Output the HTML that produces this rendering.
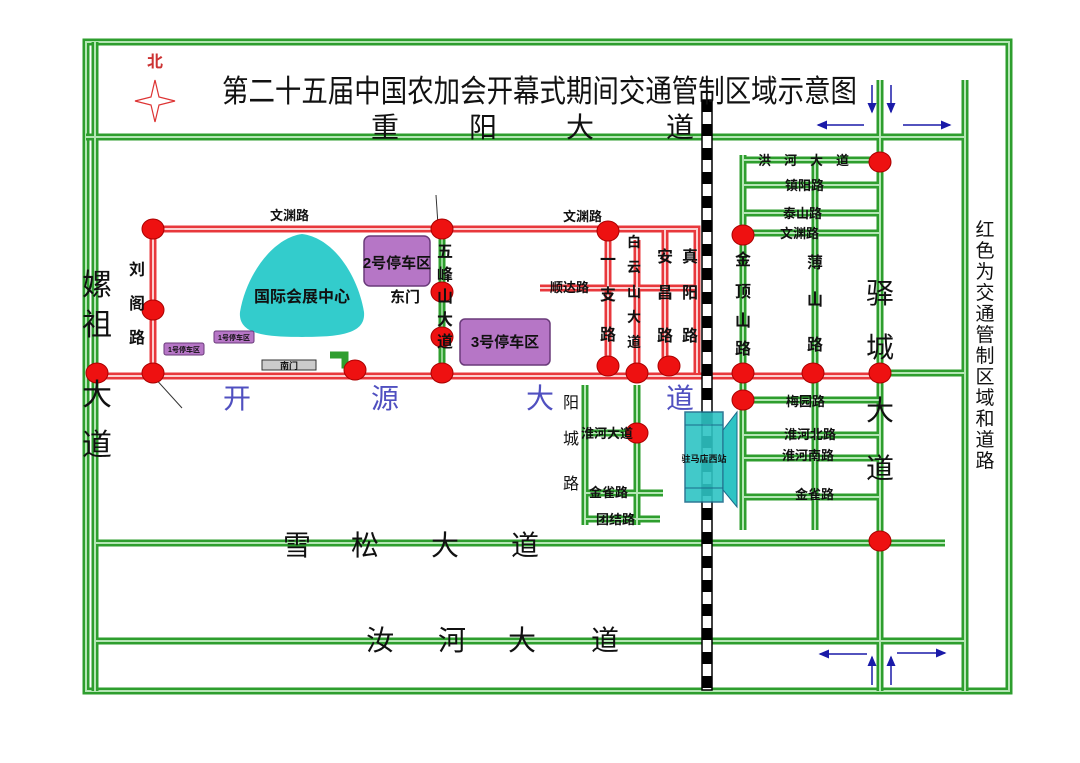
<!DOCTYPE html>
<html><head><meta charset="utf-8"><style>
html,body{margin:0;padding:0;background:#fff;}
svg{display:block;}
text{font-family:"Liberation Sans","Noto Sans CJK SC",sans-serif;}
.b{font-weight:bold;font-size:13px;fill:#111;}
.v{font-size:16px;fill:#111;}
.big{font-family:"Liberation Serif","Noto Serif CJK SC",serif;font-size:28px;fill:#111;}
</style></head><body>
<svg width="1080" height="763" viewBox="0 0 1080 763" xmlns="http://www.w3.org/2000/svg">
<defs>
<marker id="ah" markerWidth="8" markerHeight="8" refX="6" refY="4" orient="auto"><path d="M0,1 L7,4 L0,7 Z" fill="#1a1aa8"/></marker>
</defs>
<rect width="1080" height="763" fill="#fff"/>
<!-- outer frame -->
<g fill="none">
<rect x="86" y="42" width="923" height="649" stroke="#2e9e2e" stroke-width="7"/>
<rect x="86" y="42" width="923" height="649" stroke="#b4e6b4" stroke-width="2"/>
</g>
<!-- green roads -->
<g stroke="#2e9e2e" stroke-width="7" fill="none" id="gr">
<path d="M95,42 V691"/>
<path d="M86,137 H965"/>
<path d="M965,80 V691"/>
<path d="M880,80 V691"/>
<path d="M880,373 H965"/>
<path d="M95,543 H945"/>
<path d="M95,641 H965"/>
<path d="M743,155 V530 M815,160 V530 M743,160 H880 M743,185 H880 M743,213 H880 M743,233 H880 M743,400 H880 M743,435 H880 M743,458 H880 M743,497 H880"/>
<path d="M585,385 V525 M637,385 V525 M585,433 H637 M585,493 H663 M585,519 H660"/>
<path d="M442,229 V373 M330,355 H345 V365 H355"/>
</g>
<g stroke="#b4e6b4" stroke-width="2" fill="none">
<path d="M95,42 V691"/>
<path d="M86,137 H965"/>
<path d="M965,80 V691"/>
<path d="M880,80 V691"/>
<path d="M880,373 H965"/>
<path d="M95,543 H945"/>
<path d="M95,641 H965"/>
<path d="M743,155 V530 M815,160 V530 M743,160 H880 M743,185 H880 M743,213 H880 M743,233 H880 M743,400 H880 M743,435 H880 M743,458 H880 M743,497 H880"/>
<path d="M585,385 V525 M637,385 V525 M585,433 H637 M585,493 H663 M585,519 H660"/>
<path d="M442,229 V373"/>
</g>
<!-- red roads -->
<g stroke="#e8383c" stroke-width="7" fill="none">
<path d="M95,376 H880"/>
<path d="M153,229 H697 V373"/>
<path d="M153,229 V376"/>
<path d="M608,229 V366 M637,240 V373 M665,229 V366 M540,288 H697"/>
</g>
<g stroke="#fbd0d0" stroke-width="2" fill="none">
<path d="M95,376 H880"/>
<path d="M153,229 H697 V373"/>
<path d="M153,229 V376"/>
<path d="M608,229 V366 M637,240 V373 M665,229 V366 M540,288 H697"/>
</g>
<g stroke="#2e9e2e" stroke-width="5" fill="none"><path d="M442,240 V370"/></g>
<g stroke="#b4e6b4" stroke-width="1.5" fill="none"><path d="M442,240 V370"/></g>
<!-- railway -->
<rect x="702" y="100" width="10" height="590" fill="#fff" stroke="#000" stroke-width="1.5"/>
<line x1="707" y1="100" x2="707" y2="690" stroke="#000" stroke-width="9" stroke-dasharray="12,12"/>
<!-- station -->
<rect x="685" y="412" width="38" height="90" fill="#2ec4c4" stroke="#1a6a8a" stroke-width="1.5" opacity="0.9"/>
<path d="M685,425 H723 M685,488 H723" stroke="#1a6a8a" stroke-width="1"/>
<polygon points="723,430 737,412 737,507 723,490" fill="#2ec4c4" stroke="#1a6a8a" stroke-width="1"/>
<text x="704" y="462" font-size="9" font-weight="bold" text-anchor="middle" fill="#111">驻马店西站</text>
<!-- dome -->
<path d="M240,312 C246,276 272,238 302,234 C334,238 358,276 364,312 C366,334 340,337 302,337 C264,337 238,334 240,312 Z" fill="#33cccc"/>
<!-- parking -->
<rect x="364" y="236" width="66" height="50" rx="6" fill="#b676c6" stroke="#6a3a7a" stroke-width="1.5"/>
<rect x="460" y="319" width="90" height="46" rx="5" fill="#b676c6" stroke="#6a3a7a" stroke-width="1.5"/>
<rect x="164" y="343" width="40" height="12" rx="2" fill="#b676c6" stroke="#6a3a7a"/>
<rect x="214" y="331" width="40" height="12" rx="2" fill="#b676c6" stroke="#6a3a7a"/>
<rect x="262" y="360" width="54" height="10" fill="#ccc" stroke="#333"/>
<line x1="153" y1="376" x2="182" y2="408" stroke="#333" stroke-width="1"/>
<line x1="436" y1="195" x2="438" y2="225" stroke="#333" stroke-width="1"/>
<!-- red dots -->
<g fill="#ee1111" stroke="#a00" stroke-width="1">
<ellipse cx="97" cy="373" rx="11" ry="10"/><ellipse cx="153" cy="373" rx="11" ry="10"/>
<ellipse cx="153" cy="310" rx="11" ry="10"/><ellipse cx="153" cy="229" rx="11" ry="10"/>
<ellipse cx="442" cy="229" rx="11" ry="10"/><ellipse cx="442" cy="292" rx="11" ry="10"/>
<ellipse cx="442" cy="337" rx="11" ry="10"/><ellipse cx="442" cy="373" rx="11" ry="10"/>
<ellipse cx="355" cy="370" rx="11" ry="10"/><ellipse cx="608" cy="231" rx="11" ry="10"/>
<ellipse cx="608" cy="366" rx="11" ry="10"/><ellipse cx="637" cy="373" rx="11" ry="10"/>
<ellipse cx="669" cy="366" rx="11" ry="10"/><ellipse cx="743" cy="373" rx="11" ry="10"/>
<ellipse cx="743" cy="400" rx="11" ry="10"/><ellipse cx="743" cy="235" rx="11" ry="10"/>
<ellipse cx="813" cy="373" rx="11" ry="10"/><ellipse cx="880" cy="373" rx="11" ry="10"/>
<ellipse cx="880" cy="162" rx="11" ry="10"/><ellipse cx="880" cy="541" rx="11" ry="10"/>
<ellipse cx="637" cy="433" rx="11" ry="10"/>
</g>
<!-- arrows -->
<g stroke="#1a1aa8" stroke-width="1.5" marker-end="url(#ah)">
<line x1="872" y1="85" x2="872" y2="112"/><line x1="891" y1="85" x2="891" y2="112"/>
<line x1="864" y1="125" x2="818" y2="125"/><line x1="903" y1="125" x2="950" y2="125"/>
<line x1="872" y1="685" x2="872" y2="657"/><line x1="891" y1="685" x2="891" y2="657"/>
<line x1="867" y1="654" x2="820" y2="654"/><line x1="897" y1="653" x2="945" y2="653"/>
</g>
<!-- compass -->
<path d="M155,80 L159,97 L175,101 L159,105 L155,122 L151,105 L135,101 L151,97 Z" fill="#fff" stroke="#d33" stroke-width="1.2"/>
<text x="155" y="67" font-size="16" font-weight="bold" fill="#c33" text-anchor="middle">北</text>
<!-- title -->
<text x="222" y="102" font-family="'Liberation Serif','Noto Serif CJK SC',serif" font-size="31" fill="#111" textLength="635" lengthAdjust="spacingAndGlyphs">第二十五届中国农加会开幕式期间交通管制区域示意图</text>
<!-- big road names -->
<g class="big" text-anchor="middle">
<text x="385" y="137">重</text><text x="483" y="137">阳</text><text x="580" y="137">大</text><text x="680" y="137">道</text>
<text x="297" y="555">雪</text><text x="365" y="555">松</text><text x="445" y="555">大</text><text x="525" y="555">道</text>
<text x="380" y="650">汝</text><text x="452" y="650">河</text><text x="522" y="650">大</text><text x="605" y="650">道</text>
<text x="97" y="295" font-size="30">嫘</text><text x="97" y="335" font-size="30">祖</text><text x="97" y="405" font-size="30">大</text><text x="97" y="455" font-size="30">道</text>
<text x="880" y="303">驿</text><text x="880" y="357">城</text><text x="880" y="420">大</text><text x="880" y="478">道</text>
</g>
<g font-size="28" fill="#5050c0" text-anchor="middle" font-family="'Liberation Serif','Noto Serif CJK SC',serif">
<text x="237" y="408">开</text><text x="385" y="408">源</text><text x="540" y="408">大</text><text x="680" y="408">道</text>
</g>
<!-- legend -->
<g font-size="19" fill="#111" text-anchor="middle">
<text x="985" y="236">红</text><text x="985" y="257">色</text><text x="985" y="278">为</text><text x="985" y="299">交</text><text x="985" y="320">通</text><text x="985" y="341">管</text><text x="985" y="362">制</text><text x="985" y="383">区</text><text x="985" y="404">域</text><text x="985" y="425">和</text><text x="985" y="446">道</text><text x="985" y="467">路</text>
</g>
<!-- small labels -->
<g class="b">
<text x="270" y="220">文渊路</text>
<text x="563" y="221">文渊路</text>
<text x="550" y="292">顺达路</text>
<text x="581" y="438">淮河大道</text>
<text x="589" y="497">金雀路</text>
<text x="596" y="524">团结路</text>
<text x="758" y="165">洪　河　大　道</text>
<text x="785" y="190">镇阳路</text>
<text x="783" y="218">泰山路</text>
<text x="780" y="238">文渊路</text>
<text x="786" y="406">梅园路</text>
<text x="784" y="439">淮河北路</text>
<text x="782" y="460">淮河南路</text>
<text x="795" y="499">金雀路</text>
</g>
<text x="302" y="302" font-size="16" font-weight="bold" fill="#111" text-anchor="middle">国际会展中心</text>
<text x="405" y="302" font-size="15" font-weight="bold" fill="#111" text-anchor="middle">东门</text>
<text x="397" y="268" font-size="15" font-weight="bold" fill="#111" text-anchor="middle">2号停车区</text>
<text x="505" y="347" font-size="15" font-weight="bold" fill="#111" text-anchor="middle">3号停车区</text>
<text x="184" y="352" font-size="7" font-weight="bold" fill="#111" text-anchor="middle">1号停车区</text>
<text x="234" y="340" font-size="7" font-weight="bold" fill="#111" text-anchor="middle">1号停车区</text>
<text x="289" y="369" font-size="9" font-weight="bold" fill="#111" text-anchor="middle">南门</text>
<!-- vertical labels -->
<g class="v" text-anchor="middle" font-weight="bold">
<text x="137" y="275">刘</text><text x="137" y="309">阁</text><text x="137" y="343">路</text>
<text x="445" y="257">五</text><text x="445" y="280">峰</text><text x="445" y="302">山</text><text x="445" y="325">大</text><text x="445" y="347">道</text>
<text x="608" y="265">一</text><text x="608" y="300">支</text><text x="608" y="340">路</text>
<text x="634" y="247" font-size="14">白</text><text x="634" y="272" font-size="14">云</text><text x="634" y="297" font-size="14">山</text><text x="634" y="322" font-size="14">大</text><text x="634" y="347" font-size="14">道</text>
<text x="665" y="262">安</text><text x="665" y="298">昌</text><text x="665" y="341">路</text>
<text x="690" y="262">真</text><text x="690" y="298">阳</text><text x="690" y="341">路</text>
<text x="743" y="265">金</text><text x="743" y="297">顶</text><text x="743" y="326">山</text><text x="743" y="354">路</text>
<text x="815" y="268">薄</text><text x="815" y="305">山</text><text x="815" y="350">路</text>
<text x="571" y="408" font-weight="normal">阳</text><text x="571" y="444" font-weight="normal">城</text><text x="571" y="489" font-weight="normal">路</text>
</g>
</svg>
</body></html>
